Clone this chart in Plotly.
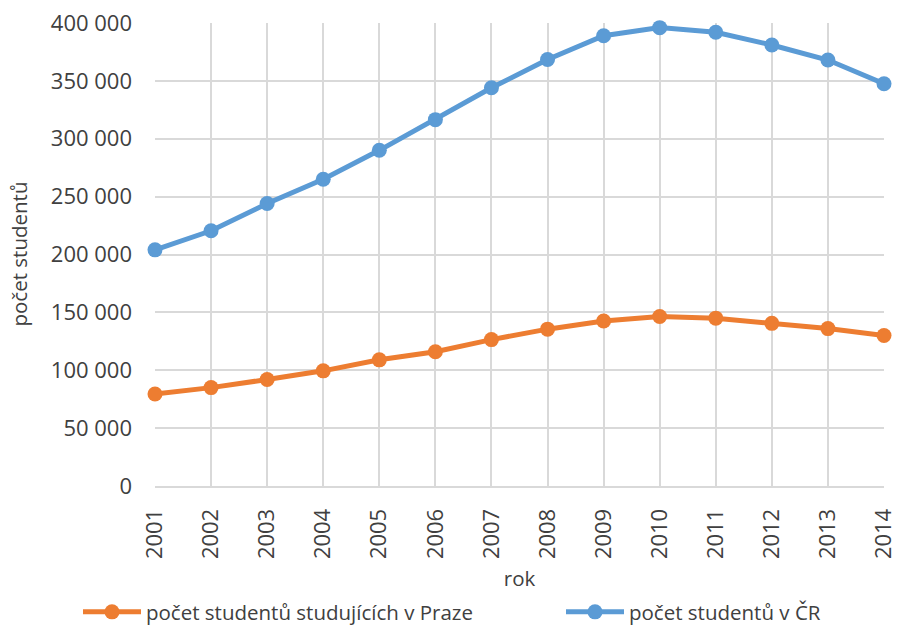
import plotly.graph_objects as go

years = [str(y) for y in range(2001, 2015)]
praha = [79500, 85000, 92000, 99500, 109000, 116000, 126500, 135500, 142500, 146500, 145000, 140500, 136000, 130000]
cr = [204000, 220500, 244000, 265000, 290000, 316500, 344000, 368500, 389000, 396000, 392000, 381000, 368000, 347500]

font = "'Open Sans', Lato, sans-serif"
fs_tick = 22
fs_text = 20.5
fig = go.Figure()
fig.add_trace(go.Scatter(x=years, y=praha, mode="lines+markers",
                         name="počet studentů studujících v Praze", legend="legend",
                         line=dict(color="#ED7D31", width=5),
                         marker=dict(size=15, color="#ED7D31"), cliponaxis=False))
fig.add_trace(go.Scatter(x=years, y=cr, mode="lines+markers",
                         name="počet studentů v ČR", legend="legend2",
                         line=dict(color="#5B9BD5", width=5),
                         marker=dict(size=15, color="#5B9BD5"), cliponaxis=False))

plot_left, plot_w = 155, 897 - 155 - 13
leg = dict(orientation="h", xref="container", xanchor="left",
           y=13 / 625, yref="container", yanchor="middle",
           font=dict(size=fs_text, color="#404040"), itemwidth=58,
           bgcolor="rgba(0,0,0,0)")
fig.update_layout(
    width=897, height=625,
    margin=dict(l=155, r=13, t=23, b=139),
    plot_bgcolor="white", paper_bgcolor="white",
    separators=", ",
    font=dict(family=font, size=fs_text, color="#404040"),
    showlegend=True,
    legend=dict(leg, x=78 / 897),
    legend2=dict(leg, x=561 / 897),
    xaxis=dict(type="category", range=[0, 13], showgrid=True, gridcolor="#D9D9D9", gridwidth=2,
               tickangle=-90, showline=True, linecolor="#D9D9D9", linewidth=2,
               ticks="", automargin=False, ticklabelstandoff=12,
               title=dict(text="rok", font=dict(size=fs_text), standoff=18),
               tickfont=dict(size=fs_tick)),
    yaxis=dict(range=[0, 400000], tickvals=list(range(0, 400001, 50000)),
               tickformat=",d", showgrid=True, gridcolor="#D9D9D9", gridwidth=2,
               zeroline=False, showline=False, ticks="", automargin=False,
               ticklabelstandoff=22,
               tickfont=dict(size=fs_tick)),
    annotations=[dict(text="počet studentů", textangle=-90, xref="paper",
                      x=(18 - plot_left) / plot_w,
                      xanchor="center", yref="paper", y=0.5, yanchor="middle",
                      showarrow=False, font=dict(size=fs_text, color="#404040"))],
)
fig.write_html("out.html", config={"displayModeBar": False},
               post_script="document.body.style.margin='0';")
